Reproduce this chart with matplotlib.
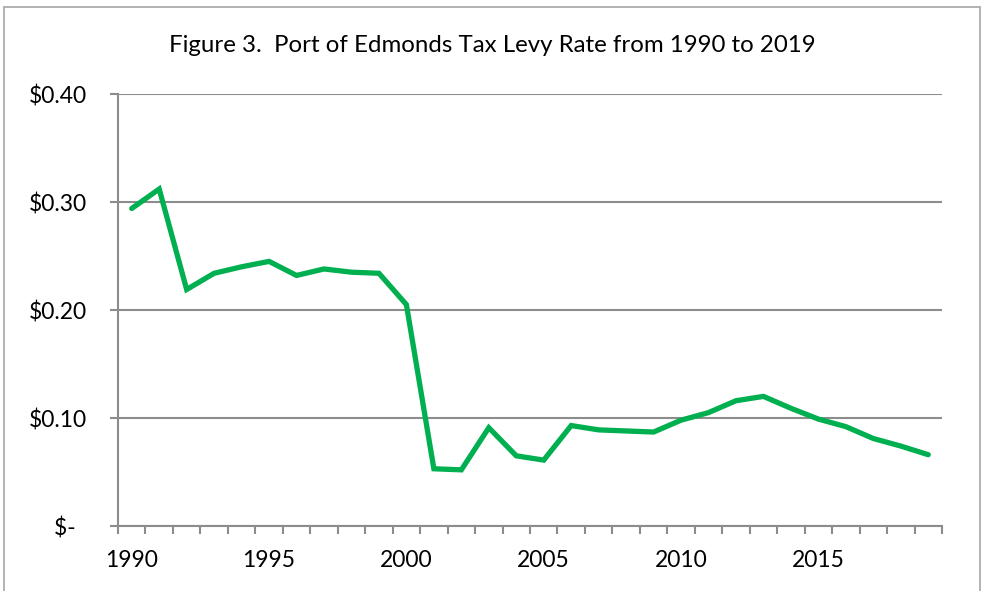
import matplotlib.pyplot as plt
from matplotlib.patches import Rectangle

plt.rcParams['font.family'] = ['Lato', 'DejaVu Sans']

# Datos
years = list(range(1990, 2020))
levy_rate = [0.294, 0.312, 0.219, 0.234, 0.240, 0.245, 0.232, 0.238, 0.235, 0.234,
             0.205, 0.053, 0.052, 0.091, 0.065, 0.061, 0.093, 0.089, 0.088, 0.087,
             0.098, 0.105, 0.116, 0.120, 0.109, 0.099, 0.092, 0.081, 0.074, 0.066]
x_labels = [1990, 1995, 2000, 2005, 2010, 2015]
y_ticks = [0.0, 0.1, 0.2, 0.3, 0.4]
y_labels = ['$-  ', '$0.10', '$0.20', '$0.30', '$0.40']

grey = '#8c8c8c'

fig = plt.figure(figsize=(9.82, 5.91), dpi=100)
ax = fig.add_axes([118/982, 1 - 526/591, (942 - 118)/982, (526 - 94)/591])

ax.plot(years, levy_rate, color='#00B050', linewidth=3.8, solid_capstyle='round',
        solid_joinstyle='miter', zorder=3)

ax.set_xlim(1989.5, 2019.5)
ax.set_ylim(0, 0.4)

ax.set_yticks(y_ticks)
ax.set_yticklabels(y_labels)
ax.set_xticks(x_labels)
ax.set_xticklabels([str(y) for y in x_labels])
ax.set_xticks([y + 0.5 for y in range(1989, 2020)], minor=True)

ax.tick_params(axis='x', which='major', length=0, pad=17, labelsize=16.5)
ax.tick_params(axis='x', which='minor', length=6, width=1.5, color=grey, direction='out')
ax.tick_params(axis='y', length=6, width=1.5, color=grey, pad=16, labelsize=16.5)

ax.grid(axis='y', color=grey, linewidth=1.5)
ax.set_axisbelow(True)
for s in ['top', 'right']:
    ax.spines[s].set_visible(False)
for s in ['left', 'bottom']:
    ax.spines[s].set_color(grey)
    ax.spines[s].set_linewidth(1.5)

fig.text(0.501, 1 - 45/591, 'Figure 3.  Port of Edmonds Tax Levy Rate from 1990 to 2019',
         ha='center', va='center', fontsize=17.3)

# Borde exterior del gráfico
fig.patches.append(Rectangle((4/982, -0.05), (980 - 4)/982, 1.05 - 7/591,
                             transform=fig.transFigure, fill=False,
                             edgecolor='#a6a6a6', linewidth=1.2))

fig.savefig('out.png', dpi=100)
